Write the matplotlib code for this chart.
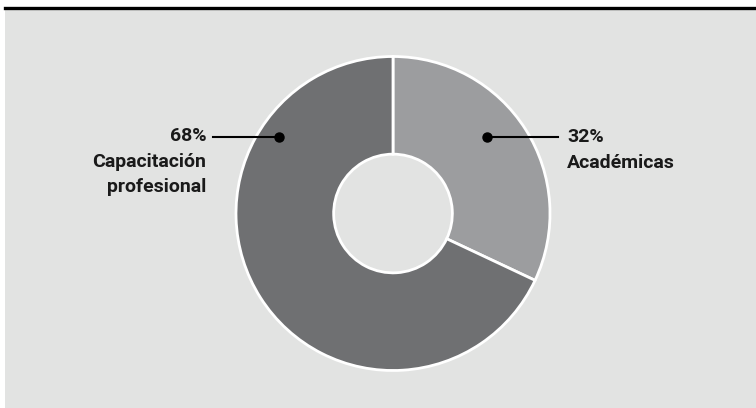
import matplotlib
matplotlib.use("Agg")
import matplotlib.pyplot as plt

# datos del gráfico
categorias = ["Académicas", "Capacitación\nprofesional"]
valores = [32, 68]
colores = ["#9c9d9f", "#6f7072"]

FONDO = "#e2e3e2"
W, H = 756, 408

fig = plt.figure(figsize=(W / 100, H / 100), dpi=100)
fig.patch.set_facecolor("white")

# panel gris de fondo
bg = fig.add_axes([5 / W, 0, 1 - 5 / W, 399 / H], zorder=0)
bg.set_facecolor(FONDO)
bg.set_xticks([])
bg.set_yticks([])
for s in bg.spines.values():
    s.set_visible(False)

# línea negra superior
fig.add_artist(plt.Line2D([5 / W, 1], [400.5 / H, 400.5 / H],
                          transform=fig.transFigure, color="black", lw=2.4))

# ejes del anillo: centro (393, 213.5) px, radio 157 px
cx, cy, r = 393, H - 213.5, 157
ax = fig.add_axes([(cx - r) / W, (cy - r) / H, 2 * r / W, 2 * r / H], zorder=1)

ax.pie(valores, colors=colores, startangle=90, counterclock=False, radius=1,
       wedgeprops=dict(width=0.622, edgecolor="white", linewidth=2))
ax.set_xlim(-1, 1)
ax.set_ylim(-1, 1)
ax.axis("off")

fuente = dict(family=["Roboto", "DejaVu Sans"], fontweight="bold",
              fontsize=14, color="#1a1a1a", clip_on=False)
y_guia = 0.487

# etiqueta derecha
ax.plot([0.599, 1.051], [y_guia, y_guia], color="black", lw=1.5, clip_on=False)
ax.plot(0.599, y_guia, "o", color="black", ms=6.5)
ax.text(1.108, 0.455, f"{valores[0]}%", ha="left", va="baseline", **fuente)
ax.text(1.108, 0.290, categorias[0], ha="left", va="baseline", **fuente)

# etiqueta izquierda
ax.plot([-0.726, -1.146], [y_guia, y_guia], color="black", lw=1.5, clip_on=False)
ax.plot(-0.726, y_guia, "o", color="black", ms=6.5)
ax.text(-1.188, 0.462, f"{valores[1]}%", ha="right", va="baseline", **fuente)
prim, seg = categorias[1].split("\n")
ax.text(-1.188, 0.295, prim, ha="right", va="baseline", **fuente)
ax.text(-1.188, 0.134, seg, ha="right", va="baseline", **fuente)

fig.savefig("out.png", dpi=100, facecolor=fig.get_facecolor())
